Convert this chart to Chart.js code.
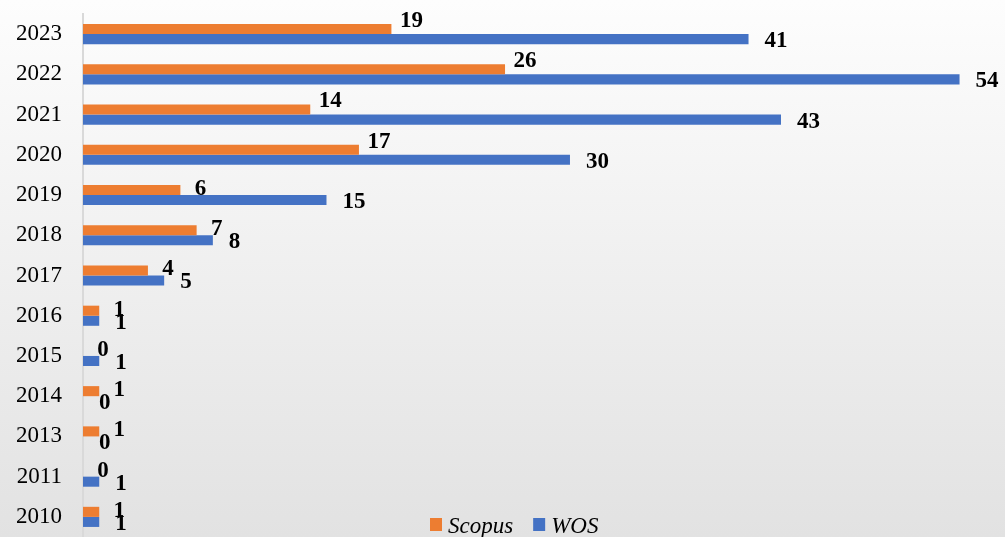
<!DOCTYPE html>
<html>
<head>
<meta charset="utf-8">
<script src="https://cdn.jsdelivr.net/npm/chart.js@4/dist/chart.umd.min.js"></script>
<style>
html,body{margin:0;padding:0;background:#fff;}
#wrap{width:1005px;height:537px;position:relative;}
</style>
</head>
<body>
<div id="wrap"><canvas id="c" width="1005" height="537"></canvas></div>
<script>
const years = ['2023','2022','2021','2020','2019','2018','2017','2016','2015','2014','2013','2011','2010'];
const scopus = [19, 26, 14, 17, 6, 7, 4, 1, 0, 1, 1, 0, 1];
const wos = [41, 54, 43, 30, 15, 8, 5, 1, 1, 0, 0, 1, 1];
const seriesNames = ['Scopus', 'WOS'];
const seriesColors = ['#ED7D31', '#4472C4'];

const FONT = "'Liberation Serif', 'Times New Roman', serif";

const bgPlugin = {
  id: 'bg',
  beforeDraw(chart) {
    const ctx = chart.ctx;
    const g = ctx.createLinearGradient(0, 0, 0, chart.height);
    g.addColorStop(0, '#fdfdfd');
    g.addColorStop(1, '#e2e2e2');
    ctx.save();
    ctx.fillStyle = g;
    ctx.fillRect(0, 0, chart.width, chart.height);
    ctx.restore();
  }
};

const labelPlugin = {
  id: 'vlabels',
  afterDatasetsDraw(chart) {
    const ctx = chart.ctx;
    ctx.save();
    ctx.font = 'bold 23px ' + FONT;
    ctx.fillStyle = '#000';
    ctx.textBaseline = 'middle';
    chart.data.datasets.forEach((ds, di) => {
      const meta = chart.getDatasetMeta(di);
      meta.data.forEach((el, i) => {
        const v = ds.data[i];
        if (di === 0) {
          ctx.textAlign = 'center';
          ctx.fillText(String(v), el.x + 20, el.y + (v >= 10 ? -8 : -1));
        } else {
          ctx.textAlign = 'left';
          ctx.fillText(String(v), el.x + 16, el.y + 2);
        }
      });
    });
    ctx.restore();
  }
};

const legendPlugin = {
  id: 'customLegend',
  afterDraw(chart) {
    const ctx = chart.ctx;
    ctx.save();
    ctx.font = 'italic 23px ' + FONT;
    ctx.textBaseline = 'alphabetic';
    ctx.textAlign = 'left';
    let x = 430;
    const top = 518, size = 12, baseline = 533;
    chart.data.datasets.forEach((ds) => {
      ctx.fillStyle = ds.backgroundColor;
      ctx.fillRect(x, top, size, size + 1);
      ctx.fillStyle = '#000';
      ctx.fillText(ds.label, x + size + 6, baseline);
      x += size + 6 + ctx.measureText(ds.label).width + 20;
    });
    ctx.restore();
  }
};

new Chart(document.getElementById('c'), {
  type: 'bar',
  data: {
    labels: years,
    datasets: [
      { label: seriesNames[0], data: scopus, backgroundColor: seriesColors[0], categoryPercentage: 0.5, barPercentage: 1.0 },
      { label: seriesNames[1], data: wos, backgroundColor: seriesColors[1], categoryPercentage: 0.5, barPercentage: 1.0 }
    ]
  },
  options: {
    indexAxis: 'y',
    responsive: false,
    animation: false,
    layout: { padding: { top: 14, bottom: 0, left: 0, right: 0 } },
    plugins: {
      legend: { display: false },
      tooltip: { enabled: false }
    },
    scales: {
      x: {
        display: false,
        min: 0,
        max: 56.8
      },
      y: {
        grid: { display: false, drawTicks: false },
        border: { display: true, color: '#d9d9d9', width: 2 },
        ticks: {
          color: '#000',
          padding: 21,
          font: { family: FONT, size: 23 }
        },
        afterFit(scale) {
          scale.width = 83;
          scale.paddingTop = 0;
          scale.paddingBottom = 0;
        }
      }
    }
  },
  plugins: [bgPlugin, labelPlugin, legendPlugin]
});
</script>
</body>
</html>
